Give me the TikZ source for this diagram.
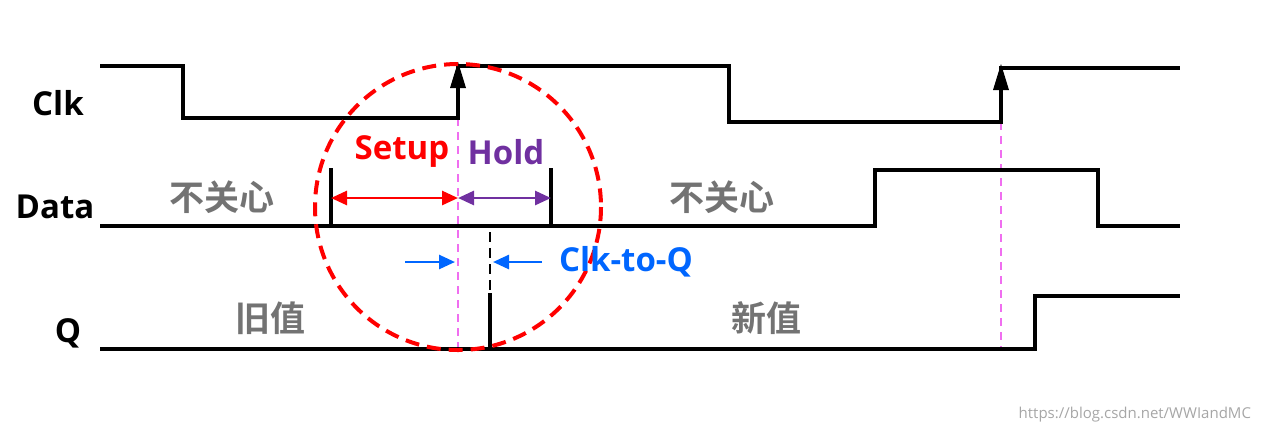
\documentclass[tikz,border=0pt]{standalone}
\usepackage{fontspec}
\setmainfont{Open Sans}
\newfontfamily\cjk{Noto Sans CJK SC}[BoldFont={Noto Sans CJK SC Bold}]
\usetikzlibrary{arrows.meta}
\definecolor{setred}{RGB}{255,0,0}
\definecolor{holdpur}{RGB}{112,48,160}
\definecolor{clkblue}{RGB}{0,102,255}
\definecolor{pinkd}{RGB}{240,110,240}
\begin{document}
\begin{tikzpicture}[x=0.5pt,y=-0.5pt,
  sig/.style={line width=1.7pt,line cap=rect},
  lbl/.style={font=\bfseries\fontsize{16.5}{16}\selectfont},
  cn/.style={font=\cjk\bfseries\fontsize{17.5}{17}\selectfont,text=black!55},
  guide/.style={pinkd,line width=1pt,dash pattern=on 4pt off 3pt},
  tip/.style={Triangle[length=8pt,width=7pt]},
  dim/.style={line width=1.4pt,{Triangle[length=8pt,width=7pt]}-{Triangle[length=8pt,width=7pt]}}]
\useasboundingbox (0,0) rectangle (1264,436);
% guides
\draw[guide] (458,118) -- (458,349);
\draw[guide] (1001,122) -- (1001,349);
% Clk
\draw[sig] (102,66) -- (183,66) -- (183,118) -- (458,118) -- (458,80);
\draw[sig] (458,66) -- (729,66) -- (729,122) -- (1001,122) -- (1001,82);
\draw[sig] (1001,68) -- (1178,68);
\fill (450,88) -- (466,88) -- (458,62) -- cycle;
\fill (993,90) -- (1009,90) -- (1001,64) -- cycle;
% Data
\draw[sig] (102,226) -- (875,226) -- (875,170) -- (1098,170) -- (1098,226) -- (1178,226);
\draw[sig] (331,170) -- (331,226);
\draw[sig] (551,170) -- (551,226);
\coordinate (sL) at (331,198); \coordinate (sM) at (458,198); \coordinate (sR) at (551,198);
\draw[dim,setred] (sL) -- (sM);
\draw[dim,holdpur] (sM) -- (sR);
% Q
\draw[sig] (102,349) -- (1035,349) -- (1035,296) -- (1178,296);
\draw[sig] (490,295) -- (490,349);
\draw[line width=1.4pt,dash pattern=on 5pt off 3pt] (490,232) -- (490,290);
% Clk-to-Q arrows
\coordinate (a1) at (405,262); \coordinate (a2) at (455,262);
\coordinate (b1) at (542,262); \coordinate (b2) at (493,262);
\draw[clkblue,line width=1.3pt,-{Triangle[length=8pt,width=7pt]}] (a1) -- (a2);
\draw[clkblue,line width=1.3pt,-{Triangle[length=8pt,width=7pt]}] (b1) -- (b2);
% circle
\draw[setred,line width=2pt,dash pattern=on 7pt off 4pt] (458,207) circle[radius=143];
% labels
\node[lbl] (clk) at (58,103) {Clk};
\node[lbl] (data) at (55,207) {Data};
\node[lbl] (q) at (68,333) {Q};
\node[lbl,setred] (setup) at (402,152) {Setup};
\node[lbl,holdpur] (hold) at (506,152) {Hold};
\node[lbl,clkblue,anchor=west] (c2q) at (552,262) {Clk-to-Q};
\node[cn] (d1) at (222,197) {不关心};
\node[cn] (d2) at (722,197) {不关心};
\node[cn] (q1) at (270,318) {旧值};
\node[cn] (q2) at (766,318) {新值};
\node[font=\fontsize{7.5}{8}\selectfont,text=black!35,anchor=east] (wm) at (1258,415) {https://blog.csdn.net/WWIandMC};
\end{tikzpicture}
\end{document}
